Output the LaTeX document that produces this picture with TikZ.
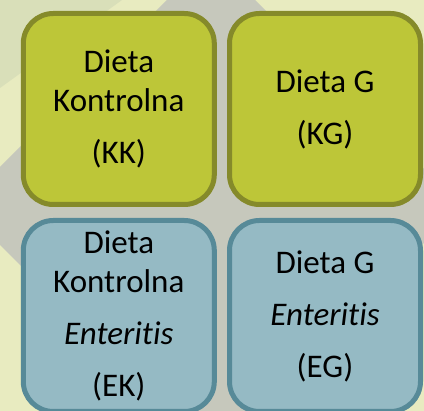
\documentclass[tikz,border=0pt]{standalone}
\usepackage{fontspec}
\setmainfont{Carlito}[Ligatures=NoCommon]

\definecolor{kgreen}{HTML}{BDC638}
\definecolor{kgreenline}{HTML}{858A2A}
\definecolor{eblue}{HTML}{95BAC4}
\definecolor{eblueline}{HTML}{578A98}
\definecolor{bgyellow}{HTML}{E8EBC0}
\definecolor{bgpale}{HTML}{D9DFB9}
\definecolor{bggrey}{HTML}{C6C8BC}

\begin{document}
\begin{tikzpicture}[x=1pt,y=-1pt,
  dietbox/.style={rounded corners=30pt, line width=5pt, minimum width=191pt,
    minimum height=191pt, inner sep=0pt, align=center,
    font=\fontsize{33}{38.5}\selectfont},
  greenbox/.style={dietbox, fill=kgreen, draw=kgreenline},
  bluebox/.style={dietbox, fill=eblue, draw=eblueline}]
  \useasboundingbox (0,0) rectangle (424,411);
  % background
  \fill[bgyellow] (0,0) rectangle (424,411);
  \fill[bgpale] (0,0) -- (122,0) -- (0,88) -- cycle;
  \fill[bggrey] (211,-44) -- (461,206) -- (211,456) -- (-39,206) -- cycle;
  % control groups
  \node[greenbox] (kk) at (118.8,109) {Dieta\\Kontrolna\\[13.5pt](KK)};
  \node[greenbox] (kg) at (325,109) {Dieta G\\[13.5pt](KG)};
  % enteritis groups
  \node[bluebox] (ek) at (118.8,316) {Dieta\\Kontrolna\\[13.5pt]\textit{Enteritis}\\[13.5pt](EK)};
  \node[bluebox] (eg) at (325,316) {Dieta G\\[13.5pt]\textit{Enteritis}\\[13.5pt](EG)};
\end{tikzpicture}
\end{document}
